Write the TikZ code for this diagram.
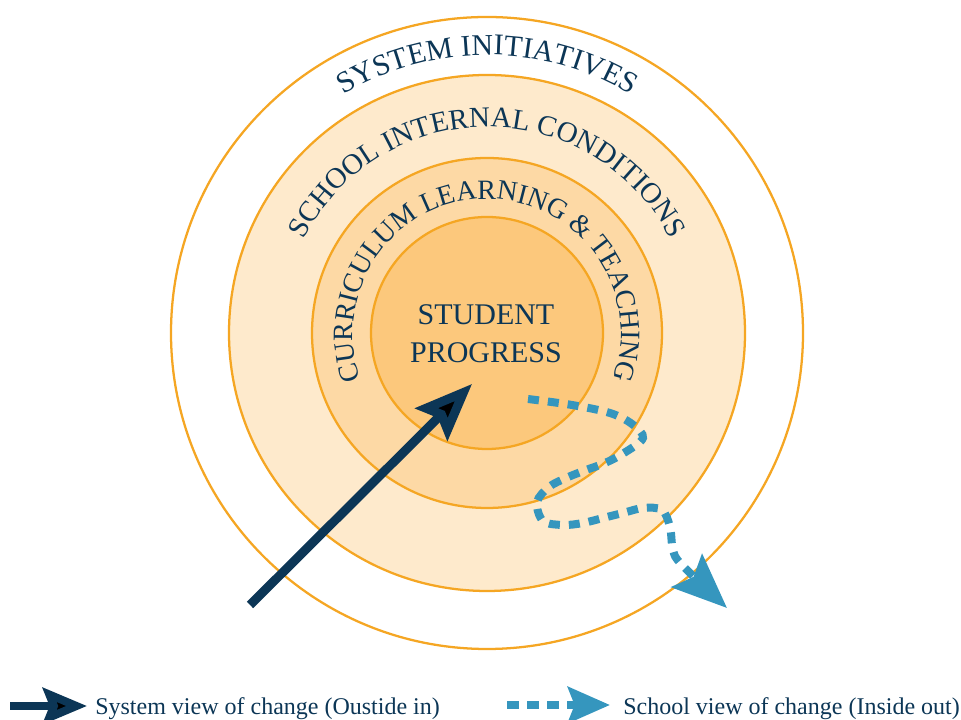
\documentclass[tikz,border=0pt]{standalone}
\usepackage{fontspec}
\setmainfont{Liberation Serif}
\usetikzlibrary{arrows.meta,decorations.text}

\definecolor{ringline}{HTML}{F5A623}
\definecolor{ringmid}{HTML}{FEEACC}
\definecolor{ringin}{HTML}{FDD9A5}
\definecolor{core}{HTML}{FCC87C}
\definecolor{navy}{HTML}{0C3656}
\definecolor{schoolblue}{HTML}{3596BE}

\newcommand\arcfontA{\fontsize{22.5}{27}\selectfont}
\newcommand\arcfontB{\fontsize{21.75}{26}\selectfont}
\newcommand\arcfontC{\fontsize{21}{25}\selectfont}

\begin{document}
\begin{tikzpicture}[x=0.75pt,y=0.75pt,
  ring/.style={draw=ringline, line width=1.7pt},
  arclabel/.style={decorate, decoration={text along path, text align=center, text color=navy}},
  corelabel/.style={text=navy, font=\fontsize{22.5}{27}\selectfont, inner sep=0pt, anchor=base},
  legendtext/.style={text=navy, font=\fontsize{18}{21}\selectfont, inner sep=0pt, anchor=base west},
  sysarrow/.style={draw=navy, line width=6.75pt,
    -{Stealth[length=42.75pt, width=33.75pt, inset=6.75pt]}},
  schoolpath/.style={draw=schoolblue, line width=6pt, dash pattern=on 8.25pt off 6.75pt,
    -{Stealth[length=41pt, width=33.5pt, inset=6.75pt]}},
  legsys/.style={draw=navy, line width=6pt,
    -{Stealth[length=33pt, width=27pt, inset=5pt]}},
  legschool/.style={draw=schoolblue, line width=6pt, dash pattern=on 9pt off 6pt,
    -{Stealth[length=31.5pt, width=27pt, inset=5pt]}}
]
\useasboundingbox (0,0) rectangle (961,720);

% concentric levels
\coordinate (C) at (487,387);
\draw[ring, fill=white]   (C) circle[radius=316];
\draw[ring, fill=ringmid] (C) circle[radius=258];
\draw[ring, fill=ringin]  (C) circle[radius=175];
\draw[ring, fill=core]    (C) circle[radius=116];

% curved level titles
\path[arclabel, decoration={text={|\arcfontA|SYSTEM INITIATIVES}}]
  ([shift={(150:278)}]C) arc[start angle=150, end angle=30, radius=278];
\path[arclabel, decoration={text={|\arcfontB|SCHOOL INTERNAL CONDITIONS}}]
  ([shift={(180:206)}]C) arc[start angle=180, end angle=0, radius=206];
\path[arclabel, decoration={text={|\arcfontC|CURRICULUM LEARNING {\&} TEACHING}}]
  ([shift={(230:134)}]C) arc[start angle=230, end angle=-50, radius=134];

% centre
\node[corelabel] (sp1) at (486,395) {STUDENT};
\node[corelabel] (sp2) at (486,357) {PROGRESS};

% system view: outside in
\coordinate (systail) at (250,115);
\coordinate (systip) at (472,336);
\draw[sysarrow] (systail) -- (systip);

% school view: inside out
\draw[schoolpath] plot[smooth, tension=0.55] coordinates {
  (528,321) (572,315) (610,307) (632,296) (643,282) (624,267) (605,257)
  (586,250) (566,242) (549,233) (537,218) (543,199) (563,195) (583,197)
  (603,202) (623,207) (643,212) (662,210) (670,193) (673,170) (682,155)
  (727,112)};

% legend
\coordinate (l1a) at (10,14);
\coordinate (l1b) at (87,14);
\draw[legsys] (l1a) -- (l1b);
\node[legendtext] (lg1) at (95,5) {System view of change (Oustide in)};

\coordinate (l2a) at (507,15);
\coordinate (l2b) at (610,15);
\draw[legschool] (l2a) -- (l2b);
\node[legendtext] (lg2) at (623,5) {School view of change (Inside out)};
\end{tikzpicture}
\end{document}
